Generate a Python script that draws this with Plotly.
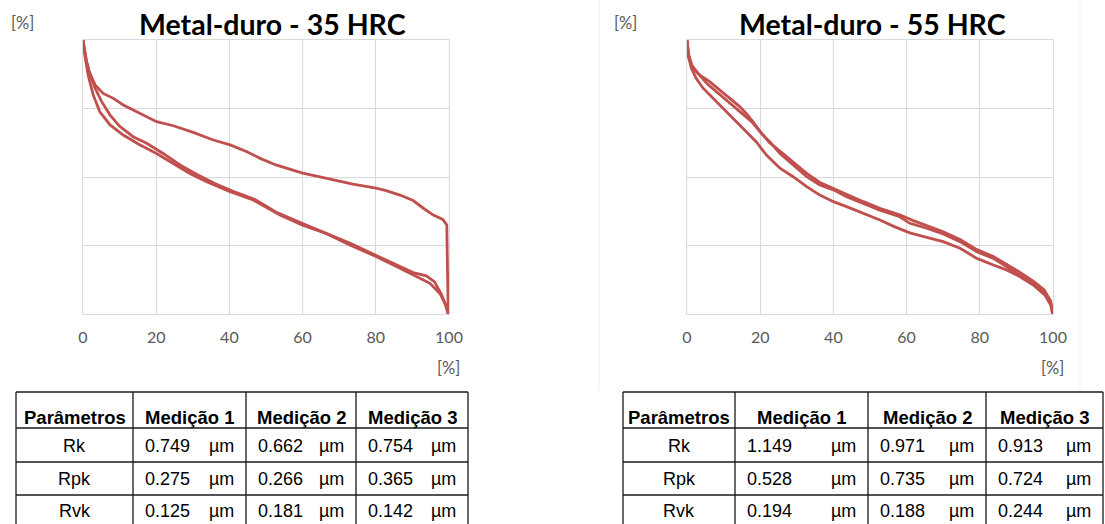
import plotly.graph_objects as go

W, H = 1105, 524

# ---------------- data ----------------
x_ticks = [0, 20, 40, 60, 80, 100]

# Metal-duro - 35 HRC (Abbott curves, 3 measurements)
l1_x = [0, 0.3, 0.8, 1.7, 3.3, 5.5, 8.3, 11, 14.7, 20.1, 24.7, 30.1, 35.6, 40.2, 44.8, 48.4, 52.7, 60, 66.3, 73.7, 80.1, 82.8, 86.6, 90.2, 93, 95.7, 98.3, 99.4, 99.5, 99.8]
l1_y = [100, 97, 93, 88.4, 83.6, 80.5, 78.7, 76.3, 73.8, 70.2, 68.7, 66.3, 63.5, 61.7, 59.2, 56.8, 54.4, 51.4, 49.6, 47.4, 45.9, 45, 43.4, 41.4, 38.6, 36.1, 34.5, 32.5, 23.4, 0]
l2_x = [0, 0.5, 1.4, 2.8, 4.6, 7.4, 11, 15.6, 20.1, 24.7, 29.2, 33.8, 40.2, 46.5, 53.8, 60, 66.4, 72.9, 80.2, 86.6, 91.2, 94.8, 97.5, 98.9, 99.8]
l2_y = [100, 94.5, 87.2, 79.9, 73.8, 69, 65.3, 61.7, 58.6, 55, 51.3, 48.3, 44.6, 41.6, 36.1, 32.4, 29.4, 25.2, 20.9, 16.7, 13.6, 11.2, 7.5, 3.9, 0]
l3_x = [0, 0.4, 1.0, 1.7, 3.3, 5.1, 7.4, 10.1, 13.7, 17.4, 21.9, 26.5, 31, 36, 41, 47, 53, 60, 66, 73, 80, 86, 90.2, 93.8, 96, 97.8, 99.2, 99.8]
l3_y = [100, 96, 92, 88.4, 82.4, 77.5, 72.6, 68.4, 64.7, 62.3, 58.6, 54.4, 51.0, 47.6, 44.8, 41.8, 37.0, 33.0, 29.8, 25.8, 21.4, 17.6, 15.1, 13.9, 11.8, 7.5, 3, 0]

# Metal-duro - 55 HRC
r1_x = [0, 0.55, 1.6, 3.5, 6.2, 8.9, 11.7, 14.4, 16.2, 18, 20.3, 22.6, 25.4, 29, 32.7, 36.3, 40, 43.6, 48.2, 52.7, 58.1, 60.9, 65.5, 70, 74.6, 79.2, 83.7, 87.3, 91, 94.6, 97.3, 99.2, 99.9]
r1_y = [100, 93.3, 89.7, 87.2, 84.8, 81.8, 78.7, 75.7, 73.2, 70.2, 65.9, 62.9, 58.6, 54.4, 50.1, 47.1, 45.3, 42.8, 40.4, 37.9, 35.5, 33.1, 31.3, 29.2, 26.4, 22.7, 20.3, 17.3, 14.2, 11.2, 8.1, 5.1, 0]
r2_x = [0, 0.4, 1.3, 3.0, 5.5, 8.5, 11.5, 14.5, 17.5, 20, 22.5, 25.4, 29, 32.7, 36.3, 40, 43.6, 48.2, 52.7, 58.1, 62, 66, 70, 74.6, 79.2, 83.7, 87.3, 91, 94.6, 97.6, 99.4, 99.9]
r2_y = [100, 95, 90.8, 87.8, 84.0, 80.6, 77.2, 73.8, 70.4, 66.6, 62.6, 59.5, 55.4, 51.3, 48.0, 45.8, 43.6, 41.0, 38.6, 36.2, 34.0, 32.0, 30.0, 27.2, 23.5, 21.0, 18.2, 15.2, 12.0, 8.8, 4.6, 0]
r3_x = [0, 0.3, 1.2, 2.5, 4.4, 7.1, 10.7, 14.4, 17.1, 18.9, 21.7, 24.4, 25.4, 29, 32.7, 36.3, 40, 43.6, 48.2, 52.7, 56.8, 60.9, 65.5, 70, 74.6, 79.2, 83.7, 87.3, 91, 94.6, 97.8, 99.6, 99.9]
r3_y = [100, 94.5, 89.7, 86, 82.4, 78.7, 73.8, 69, 65.3, 62.9, 58, 54.4, 53.2, 50.1, 46.5, 43.4, 41, 39.2, 36.8, 34.3, 31.8, 29.6, 28.0, 26.4, 24.0, 20.3, 17.9, 16.1, 13.6, 10.6, 6.9, 2.7, 0]

titles = ["Metal-duro - 35 HRC", "Metal-duro - 55 HRC"]

table_header = ["Parâmetros", "Medição 1", "Medição 2", "Medição 3"]
params = ["Rk", "Rpk", "Rvk"]
unit = "µm"
left_m1 = [0.749, 0.275, 0.125]
left_m2 = [0.662, 0.266, 0.181]
left_m3 = [0.754, 0.365, 0.142]
right_m1 = [1.149, 0.528, 0.194]
right_m2 = [0.971, 0.735, 0.188]
right_m3 = [0.913, 0.724, 0.244]

# ---------------- layout helpers ----------------
def px(x):
    return x / W

def py(y):
    return 1 - y / H

RED = "#C0504D"
GRID = "#D9D9D9"
LABEL = "#595959"

fig = go.Figure()
for xs, ys in [(l1_x, l1_y), (l2_x, l2_y), (l3_x, l3_y)]:
    fig.add_trace(go.Scatter(x=xs, y=ys, mode="lines", line=dict(color=RED, width=2.8),
                             xaxis="x", yaxis="y", showlegend=False, hoverinfo="skip"))
for xs, ys in [(r1_x, r1_y), (r2_x, r2_y), (r3_x, r3_y)]:
    fig.add_trace(go.Scatter(x=xs, y=ys, mode="lines", line=dict(color=RED, width=2.8),
                             xaxis="x2", yaxis="y2", showlegend=False, hoverinfo="skip"))

axis_common_x = dict(range=[0, 100], tickvals=x_ticks, showgrid=True, gridcolor=GRID, gridwidth=1,
                     showline=True, linecolor=GRID, linewidth=1, mirror=True, zeroline=False,
                     ticks="", ticklabelstandoff=9, automargin=False,
                     tickfont=dict(family="Lato", size=16, color=LABEL), fixedrange=True)
axis_common_y = dict(range=[0, 100], dtick=25, showgrid=True, gridcolor=GRID, gridwidth=1,
                     showline=True, linecolor=GRID, linewidth=1, mirror=True, zeroline=False,
                     showticklabels=False, ticks="", automargin=False, fixedrange=True)

fig.update_layout(
    width=W, height=H,
    autosize=False,
    margin=dict(l=0, r=0, t=0, b=0, pad=0, autoexpand=False),
    paper_bgcolor="white", plot_bgcolor="white",
    showlegend=False,
    xaxis=dict(domain=[px(83), px(449)], anchor="y", **axis_common_x),
    yaxis=dict(domain=[py(314), py(40)], anchor="x", **axis_common_y),
    xaxis2=dict(domain=[px(687), px(1053)], anchor="y2", **axis_common_x),
    yaxis2=dict(domain=[py(314), py(40)], anchor="x2", **axis_common_y),
)

annotations = []
shapes = []

# titles and unit labels
for title, cx, lx_top, lx_bot in [(titles[0], 272, 22, 448), (titles[1], 872, 625, 1052)]:
    annotations.append(dict(x=px(cx), y=py(23.5), xref="paper", yref="paper", text=title,
                            showarrow=False, xanchor="center", yanchor="middle",
                            font=dict(family="Lato", size=28.5, color="black", weight="bold")))
    annotations.append(dict(x=px(lx_top), y=py(22.5), xref="paper", yref="paper", text="[%]",
                            showarrow=False, xanchor="center", yanchor="middle",
                            font=dict(family="Lato", size=16.5, color=LABEL)))
    annotations.append(dict(x=px(lx_bot), y=py(368), xref="paper", yref="paper", text="[%]",
                            showarrow=False, xanchor="center", yanchor="middle",
                            font=dict(family="Lato", size=16.5, color=LABEL)))

# faint image separators
shapes.append(dict(type="line", xref="paper", yref="paper", x0=px(599), x1=px(599), y0=py(0), y1=py(391),
                   line=dict(color="#EDEDED", width=1)))
shapes.append(dict(type="line", xref="paper", yref="paper", x0=px(1080), x1=px(1080), y0=py(0), y1=py(389),
                   line=dict(color="#F2F2F2", width=1)))

# tables
row_lines = [392, 428, 462, 495]
row_centers = [445.5, 479, 511]
header_center = 417
TFONT = "Liberation Sans, Arial, sans-serif"

def draw_table(cols, m1, m2, m3):
    for yl in row_lines:
        shapes.append(dict(type="line", xref="paper", yref="paper", x0=px(cols[0]), x1=px(cols[-1]),
                           y0=py(yl), y1=py(yl), line=dict(color="#1a1a1a", width=1.3)))
    for xc in cols:
        shapes.append(dict(type="line", xref="paper", yref="paper", x0=px(xc), x1=px(xc),
                           y0=py(row_lines[0]), y1=py(H + 5), line=dict(color="#1a1a1a", width=1.3)))
    for i, h in enumerate(table_header):
        annotations.append(dict(x=px((cols[i] + cols[i + 1]) / 2), y=py(header_center), xref="paper", yref="paper",
                                text=h, showarrow=False, xanchor="center", yanchor="middle",
                                font=dict(family=TFONT, size=18.5, color="black", weight="bold")))
    for r, p in enumerate(params):
        annotations.append(dict(x=px((cols[0] + cols[1]) / 2), y=py(row_centers[r]), xref="paper", yref="paper",
                                text=p, showarrow=False, xanchor="center", yanchor="middle", borderpad=0,
                                font=dict(family=TFONT, size=18, color="black")))
        for c, vals in enumerate([m1, m2, m3]):
            xl, xr = cols[c + 1], cols[c + 2]
            annotations.append(dict(x=px(xl + 11), y=py(row_centers[r]), xref="paper", yref="paper",
                                    text=f"{vals[r]:.3f}", showarrow=False, xanchor="left", yanchor="middle",
                                    borderpad=0, font=dict(family=TFONT, size=18, color="black")))
            annotations.append(dict(x=px(xr - 11), y=py(row_centers[r]), xref="paper", yref="paper",
                                    text=unit, showarrow=False, xanchor="right", yanchor="middle",
                                    borderpad=0, font=dict(family=TFONT, size=18, color="black")))

draw_table([16, 133, 246, 356, 468], left_m1, left_m2, left_m3)
draw_table([623, 735, 868, 986, 1103], right_m1, right_m2, right_m3)

fig.update_layout(annotations=annotations, shapes=shapes)
fig.write_html(
    "out.html",
    config=dict(displayModeBar=False),
    post_script="document.body.style.margin='0';document.body.style.overflow='hidden';",
)
